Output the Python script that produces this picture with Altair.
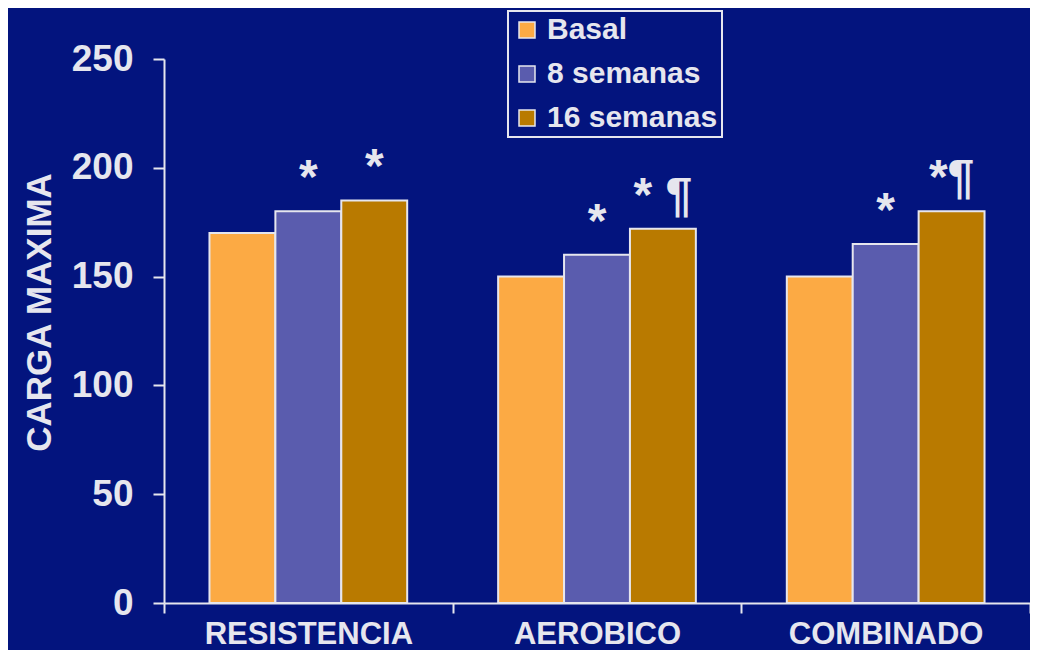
import altair as alt
import pandas as pd

categorias = ["RESISTENCIA", "AEROBICO", "COMBINADO"]
series = ["Basal", "8 semanas", "16 semanas"]
basal = [170, 150, 150]
semanas_8 = [180, 160, 165]
semanas_16 = [185, 172, 180]
marcas_basal = ["", "", ""]
marcas_8 = ["*", "*", "*"]
marcas_16 = ["*", "* ¶", "*¶"]
y_ticks = [0, 50, 100, 150, 200, 250]

rows = []
for i, c in enumerate(categorias):
    for s, vals, marks in [
        (series[0], basal, marcas_basal),
        (series[1], semanas_8, marcas_8),
        (series[2], semanas_16, marcas_16),
    ]:
        rows.append({"categoria": c, "serie": s, "valor": vals[i], "marca": marks[i]})
df = pd.DataFrame(rows)

colores = ["#FCAA44", "#5A5CAE", "#B97A00"]
light = "#E6E6EE"
bg = "#03147E"
font = "Liberation Sans, Arial, sans-serif"

x = alt.X(
    "categoria:N",
    sort=categorias,
    scale=alt.Scale(paddingInner=0, paddingOuter=0),
    axis=alt.Axis(
        title=None, labelAngle=0, tickBand="extent", tickSize=10, tickWidth=2,
        domainWidth=2, domainColor=light, tickColor=light, labelColor=light,
        labelFont=font, labelFontSize=31, labelFontWeight="bold",
        labelBaseline="alphabetic", labelPadding=30, labelLimit=400,
    ),
)
xo = alt.XOffset("serie:N", sort=series, scale=alt.Scale(paddingInner=0, paddingOuter=0.69))
y = alt.Y(
    "valor:Q",
    scale=alt.Scale(domain=[0, 250], nice=False),
    axis=alt.Axis(
        values=y_ticks, grid=False, title="CARGA MAXIMA", tickSize=11, tickWidth=2,
        domainWidth=2, domainColor=light, tickColor=light, labelColor=light,
        labelFont=font, labelFontSize=37, labelFontWeight="bold",
        labelPadding=20, titleColor=light, titleFont=font,
        titleFontSize=35, titleFontWeight="bold", titleAngle=270,
        titleBaseline="alphabetic", titleAlign="center", titleX=-114, titleY=253,
        titleLimit=600,
    ),
)

bars = alt.Chart(df).mark_bar(stroke=light, strokeWidth=2).encode(
    x=x,
    xOffset=xo,
    y=y,
    color=alt.Color(
        "serie:N",
        sort=series,
        scale=alt.Scale(domain=series, range=colores),
        title=None,
        legend=alt.Legend(
            orient="none", legendX=344, legendY=-48, direction="vertical",
            strokeColor=light, padding=4, rowPadding=14,
            symbolType="square", symbolSize=256, symbolStrokeColor=light,
            symbolStrokeWidth=1.5, symbolOpacity=1, labelColor=light,
            labelFont=font, labelFontSize=30, labelFontWeight="bold",
            labelOffset=5, labelLimit=400,
        ),
    ),
)

text = alt.Chart(df).transform_filter("datum.marca != ''").mark_text(
    font=font, fontSize=48, fontWeight="bold", color=light,
    baseline="alphabetic", dy=-18,
).encode(x=x, xOffset=xo, y=y, text="marca:N")

chart = alt.layer(bars, text).properties(
    width=866,
    height=544,
    padding={"left": 156, "top": 51, "right": 0, "bottom": 47},
    autosize=alt.AutoSizeParams(type="none"),
    background=bg,
).configure_view(stroke=None).configure_legend(strokeWidth=2)

chart.save("out.html", embed_options={"renderer": "svg", "actions": False})
